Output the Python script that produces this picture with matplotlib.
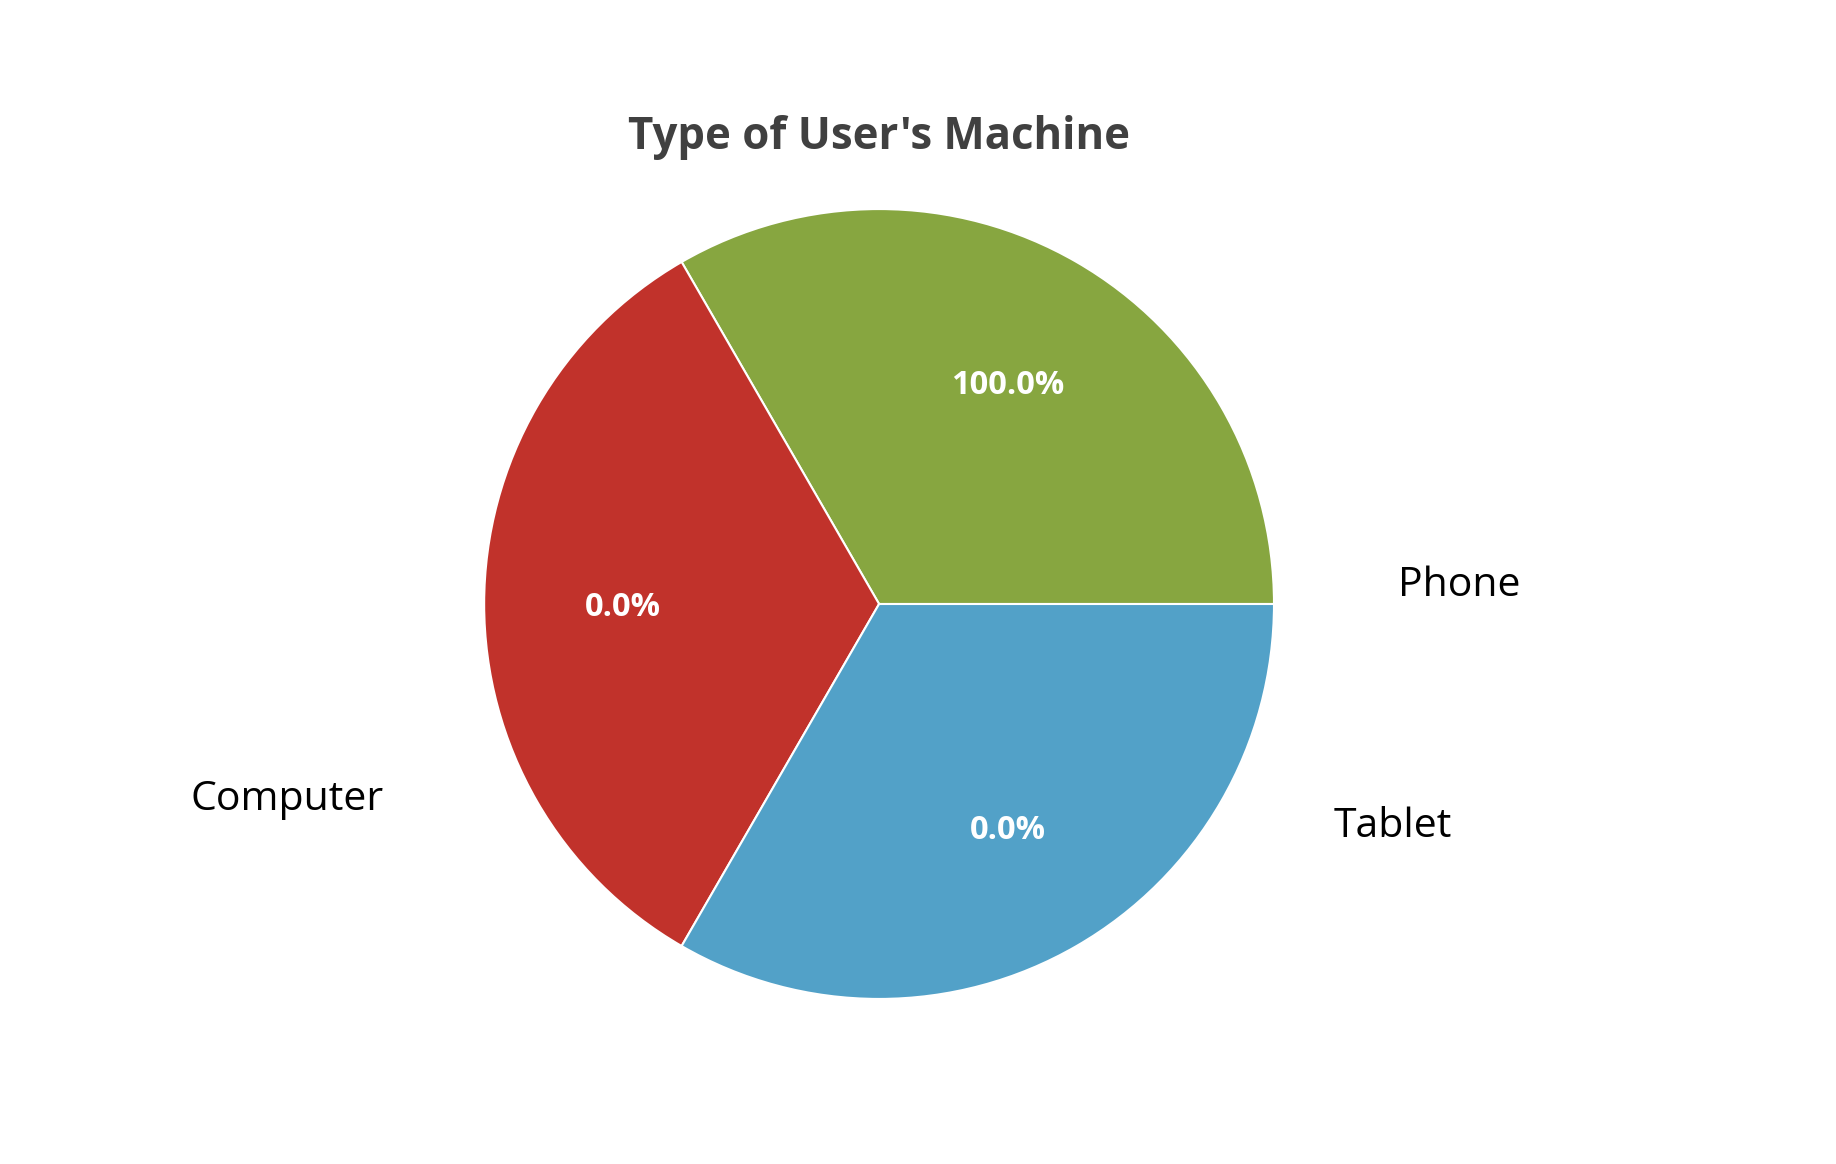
import matplotlib
matplotlib.use("Agg")
import matplotlib.pyplot as plt
import numpy as np


CATEGORIES = ["Phone", "Computer", "Tablet"]
SLICE_SIZES = [1, 1, 1]
PERCENT_LABELS = ["100.0%", "0.0%", "0.0%"]
TITLE = "Type of User's Machine"

COLORS = ["#87a640", "#c1322b", "#52a1c8"]
# outer label positions in pie radii (x, y), as placed in the original chart
LABEL_POS = [(1.47, 0.045), (-1.50, -0.495), (1.30, -0.565)]

plt.rcParams["font.family"] = ["Open Sans", "DejaVu Sans"]

fig = plt.figure(figsize=(18.36, 11.64), dpi=100)
ax = fig.add_axes([0.4788 - 0.2151, 0.4811 - 0.3393, 0.4302, 0.6786])

wedges, _ = ax.pie(
    SLICE_SIZES,
    colors=COLORS,
    startangle=0,
    counterclock=True,
    radius=1.0,
    wedgeprops={"edgecolor": "white", "linewidth": 1.5},
)

for wedge, text in zip(wedges, PERCENT_LABELS):
    mid = np.deg2rad((wedge.theta1 + wedge.theta2) / 2)
    ax.text(0.65 * np.cos(mid), 0.65 * np.sin(mid) - 0.01, text, ha="center", va="center",
            color="white", fontsize=23.5, fontweight="bold")

for name, (x, y) in zip(CATEGORIES, LABEL_POS):
    ax.text(x, y, name, ha="center", va="center", fontsize=29.5, color="black")

ax.set_xlim(-1, 1)
ax.set_ylim(-1, 1)
ax.set_aspect("auto")

fig.text(0.4788, 0.882, TITLE, ha="center", va="center", fontsize=31.5,
         fontweight="bold", color="#404040")

fig.savefig("out.png", dpi=100, facecolor="white")
